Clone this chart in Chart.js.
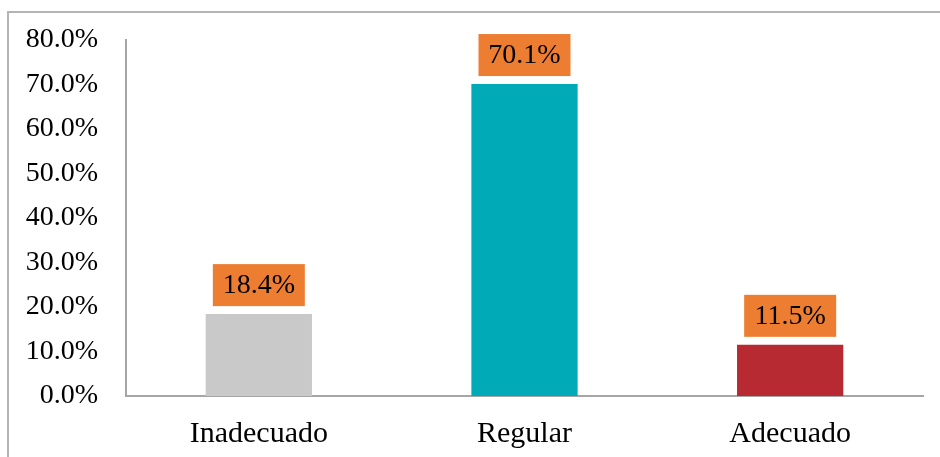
<!DOCTYPE html>
<html>
<head>
<meta charset="utf-8">
<script src="https://cdn.jsdelivr.net/npm/chart.js@4/dist/chart.umd.min.js"></script>
<style>
    html, body { margin: 0; padding: 0; background: #fff; overflow: hidden; }
    #wrap { position: relative; width: 940px; height: 457px; }
    #frame {
        position: absolute; left: 7px; top: 11px; width: 1000px; height: 1000px;
        border-left: 2px solid #b4b4b4; border-top: 2px solid #b4b4b4;
    }
    canvas { position: absolute; left: 0; top: 0; }
</style>
</head>
<body>
<div id="wrap">
    <div id="frame"></div>
    <canvas id="graph" width="940" height="457"></canvas>
</div>
<script>
const categories = ["Inadecuado", "Regular", "Adecuado"];
const percentages = [18.4, 70.1, 11.5];
const barColors = ["#c9c9c9", "#00aab6", "#b72a31"];

const serif = "'Liberation Serif', 'Times New Roman', serif";

// orange boxes with the value above each bar
const valueBoxes = {
    id: 'valueBoxes',
    afterDatasetsDraw(chart) {
        const ctx = chart.ctx;
        const meta = chart.getDatasetMeta(0);
        ctx.save();
        ctx.font = "28px " + serif;
        ctx.textAlign = 'center';
        ctx.textBaseline = 'middle';
        meta.data.forEach((bar, i) => {
            const w = 92, h = 42;
            const bottom = bar.y - 8;
            ctx.fillStyle = '#ed7d31';
            ctx.fillRect(bar.x - w / 2, bottom - h, w, h);
            ctx.fillStyle = '#000';
            ctx.fillText(percentages[i].toFixed(1) + '%', bar.x, bottom - h / 2 + 1);
        });
        ctx.restore();
    }
};

const canvas = document.getElementById('graph');

new Chart(canvas, {
    type: 'bar',
    data: {
        labels: categories,
        datasets: [{
            data: percentages,
            backgroundColor: barColors,
            borderWidth: 0,
            categoryPercentage: 0.4,
            barPercentage: 1.0
        }]
    },
    options: {
        responsive: false,
        animation: false,
        layout: { padding: { top: 40, right: 17, left: 0, bottom: 0 } },
        plugins: {
            legend: { display: false },
            tooltip: { enabled: false }
        },
        scales: {
            x: {
                grid: { display: false, drawTicks: false },
                border: { color: '#a6a6a6', width: 2 },
                ticks: {
                    color: '#000',
                    padding: 20,
                    font: { family: serif, size: 30 }
                },
                afterFit: scale => { scale.height = 61; }
            },
            y: {
                min: 0,
                max: 80,
                grid: { display: false, drawTicks: false },
                border: { color: '#a6a6a6', width: 2 },
                ticks: {
                    stepSize: 10,
                    color: '#000',
                    padding: 28,
                    font: { family: serif, size: 28, lineHeight: 0.85 },
                    callback: v => v.toFixed(1) + '%'
                },
                afterFit: scale => { scale.width = 126; }
            }
        }
    },
    plugins: [valueBoxes]
});
</script>
</body>
</html>
